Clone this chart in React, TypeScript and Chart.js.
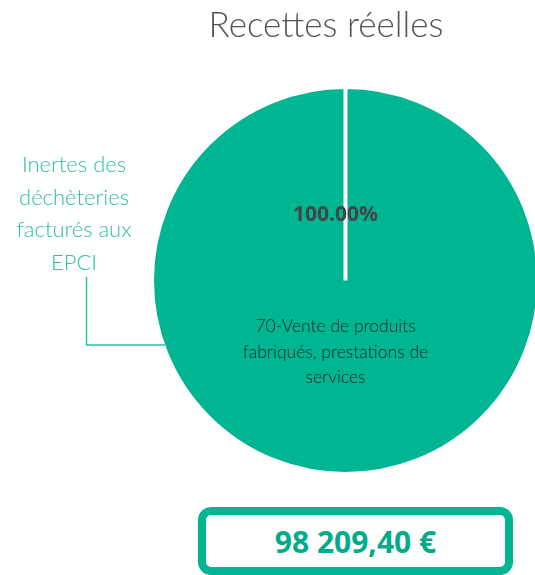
import React, { useEffect, useRef } from 'react';
import { Chart, registerables } from 'chart.js';

Chart.register(...registerables);

const chartTitle = 'Recettes réelles';
const categories = ['70-Vente de produits fabriqués, prestations de services'];
const categoryLines = [['70-Vente de produits', 'fabriqués, prestations de', 'services']];
const values = [98209.4];
const outsideLabelLines = [['Inertes des', 'déchèteries', 'facturés aux', 'EPCI']];
const totalLabel = '98 209,40 €';

const TEAL = '#00b592';
const LABEL_TEAL = '#2ac2a2';

const labelsPlugin = {
  id: 'customLabels',
  afterDraw(chart: any) {
    const ctx = chart.ctx;
    const meta = chart.getDatasetMeta(0);
    const arc = meta.data[0];
    if (!arc) return;
    const { x, y, outerRadius } = arc.getProps(['x', 'y', 'outerRadius'], true);
    const r = outerRadius - 2;
    const total = values.reduce((a, b) => a + b, 0);
    ctx.save();
    // title
    ctx.fillStyle = '#555555';
    ctx.font = '300 35px Lato';
    ctx.textAlign = 'center';
    ctx.textBaseline = 'middle';
    ctx.fillText(chartTitle, 326, 26);

    // percentage
    const pct = ((values[0] / total) * 100).toFixed(2) + '%';
    ctx.fillStyle = '#444444';
    ctx.font = 'bold 21px "Open Sans"';
    ctx.fillText(pct, x - 10, y - r * 0.34);

    // category text
    ctx.fillStyle = '#1a2321';
    ctx.font = '300 17.5px Lato';
    categoryLines[0].forEach((line, i) => {
      ctx.fillText(line, x - 10, y + r * 0.24 + i * 25.5);
    });

    // outside label
    ctx.fillStyle = LABEL_TEAL;
    ctx.font = '300 22px Lato';
    outsideLabelLines[0].forEach((line, i) => {
      ctx.fillText(line, 74, 165 + i * 32.7);
    });

    // connector
    const cy = y + r * 0.337;
    const dy = cy - y;
    const ex = x - Math.sqrt(r * r - dy * dy);
    ctx.strokeStyle = LABEL_TEAL;
    ctx.lineWidth = 1.5;
    ctx.beginPath();
    ctx.moveTo(86.5, 277);
    ctx.lineTo(86.5, cy);
    ctx.lineTo(ex + 2, cy);
    ctx.stroke();
    ctx.restore();
  },
};

export default function App() {
  const ref = useRef<HTMLCanvasElement>(null);
  useEffect(() => {
    if (!ref.current) return;
    const chart = new Chart(ref.current, {
      type: 'pie',
      data: {
        labels: categories,
        datasets: [
          {
            data: values,
            backgroundColor: [TEAL],
            borderColor: '#ffffff',
            borderWidth: 4,
          },
        ],
      },
      options: {
        responsive: false,
        animation: false,
        devicePixelRatio: 1,
        layout: { padding: { left: 150, right: 4, top: 85, bottom: 24 } },
        plugins: {
          legend: { display: false },
          title: { display: false },
          tooltip: { enabled: false },
        },
      },
      plugins: [labelsPlugin],
    });
    return () => chart.destroy();
  }, []);

  return (
    <div
      style={{
        position: 'fixed',
        left: 0,
        top: 0,
        width: 535,
        height: 575,
        overflow: 'hidden',
        background: '#ffffff',
      }}
    >
      <canvas ref={ref} width={545} height={500} style={{ display: 'block' }} />
      <div
        style={{
          position: 'absolute',
          left: 198,
          top: 507,
          width: 315,
          height: 68,
          boxSizing: 'border-box',
          border: `8px solid ${TEAL}`,
          borderRadius: 13,
          display: 'flex',
          alignItems: 'center',
          justifyContent: 'center',
          color: '#00ab8a',
          font: '700 30px "Open Sans", sans-serif',
        }}
      >
        {totalLabel}
      </div>
    </div>
  );
}
